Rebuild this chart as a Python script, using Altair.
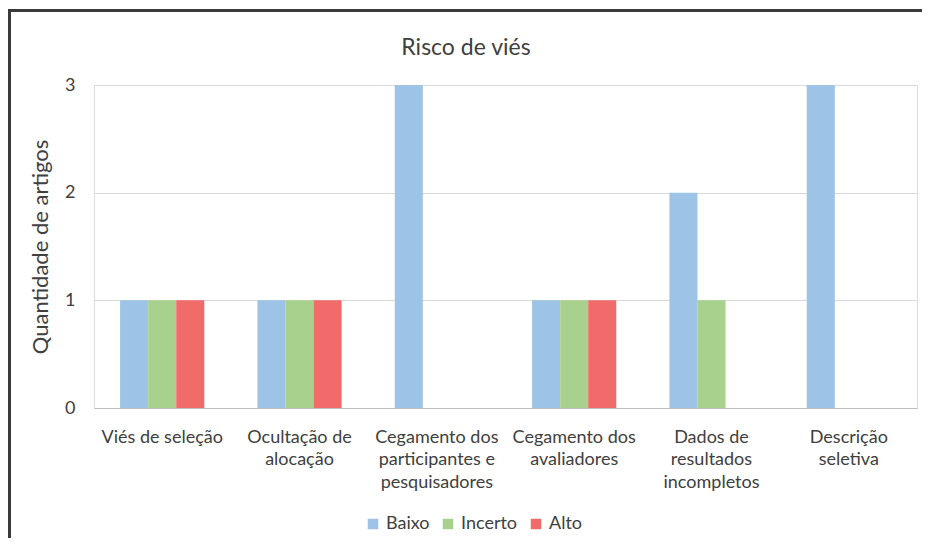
import altair as alt
import pandas as pd

categories = [
    "Viés de seleção",
    "Ocultação de alocação",
    "Cegamento dos participantes e pesquisadores",
    "Cegamento dos avaliadores",
    "Dados de resultados incompletos",
    "Descrição seletiva",
]
label_lines = [
    ["Viés de seleção"],
    ["Ocultação de", "alocação"],
    ["Cegamento dos", "participantes e", "pesquisadores"],
    ["Cegamento dos", "avaliadores"],
    ["Dados de", "resultados", "incompletos"],
    ["Descrição", "seletiva"],
]
series = ["Baixo", "Incerto", "Alto"]
colors = ["#9DC3E6", "#A9D18E", "#F26B6B"]
baixo = [1, 1, 3, 1, 2, 3]
incerto = [1, 1, 0, 1, 1, 0]
alto = [1, 1, 0, 1, 0, 0]

rows = []
for i, c in enumerate(categories):
    for s, vals in zip(series, [baixo, incerto, alto]):
        rows.append({"categoria": c, "nivel": s, "valor": vals[i]})
df = pd.DataFrame(rows)

label_map = {c: "|".join(l) for c, l in zip(categories, label_lines)}
label_expr = "split(" + str(label_map).replace("'", '"') + "[datum.label], '|')"

FONT = "Lato"

bars = alt.Chart(df).transform_filter("datum.valor > 0").mark_bar().encode(
    x=alt.X(
        "categoria:N",
        sort=categories,
        scale=alt.Scale(domain=categories, paddingInner=0.387, paddingOuter=0.19),
        axis=alt.Axis(
            title=None,
            labelAngle=0,
            labelExpr=label_expr,
            labelFont=FONT,
            labelFontSize=18,
            labelColor="#404040",
            labelPadding=20,
            labelLineHeight=22.5,
            labelBaseline="top",
            ticks=False,
            domain=True,
            domainColor="#BFBFBF",
            labelLimit=0,
        ),
    ),
    xOffset=alt.XOffset(
        "nivel:N",
        sort=series,
        scale=alt.Scale(domain=series, paddingInner=0, paddingOuter=0),
    ),
    y=alt.Y(
        "valor:Q",
        scale=alt.Scale(domain=[0, 3], nice=False),
        axis=alt.Axis(
            title="Quantidade de artigos",
            values=[0, 1, 2, 3],
            format="d",
            titleFont=FONT,
            titleFontSize=22,
            titleFontWeight="normal",
            titleColor="#404040",
            titlePadding=12,
            labelFont=FONT,
            labelFontSize=18,
            labelColor="#404040",
            labelPadding=19,
            ticks=False,
            domain=False,
            grid=True,
            gridColor="#D9D9D9",
            gridWidth=1,
        ),
    ),
    color=alt.Color(
        "nivel:N",
        sort=series,
        scale=alt.Scale(domain=series, range=colors),
        legend=alt.Legend(
            title=None,
            orient="none",
            direction="horizontal",
            legendX=270,
            legendY=430,
            symbolType="square",
            symbolSize=110,
            symbolStrokeWidth=0,
            labelFont=FONT,
            labelFontSize=18,
            labelColor="#404040",
            columnPadding=9,
            labelOffset=4,
        ),
    ),
)

frame_top = alt.Chart(df).mark_rule(color="#3A3A3A", strokeWidth=3).encode(
    x=alt.value(-86), x2=alt.value(840), y=alt.value(-74.5)
)
frame_left = alt.Chart(df).mark_rule(color="#3A3A3A", strokeWidth=3).encode(
    x=alt.value(-84.5), y=alt.value(-76), y2=alt.value(460)
)

chart = alt.layer(bars, frame_top, frame_left).properties(
    width=823,
    height=323,
    autosize=alt.AutoSizeParams(type="none"),
    padding={"left": 86, "top": 77, "right": 5, "bottom": 130},
    title=alt.TitleParams(
        "Risco de viés",
        font=FONT,
        fontSize=23,
        fontWeight="normal",
        color="#404040",
        anchor="middle",
        frame="group",
        dx=-39.5,
        offset=0,
        dy=52.5,
    ),
).configure_view(stroke=None).configure(background="white")

chart.save("out.html", embed_options={"renderer": "svg", "actions": False})
